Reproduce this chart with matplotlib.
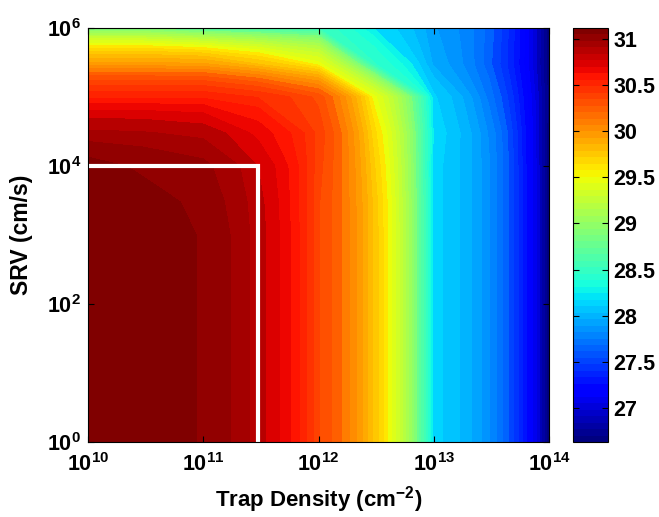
import numpy as np
import matplotlib
matplotlib.use('Agg')
import matplotlib.pyplot as plt
from matplotlib import ticker, colors, cm

# grid of simulated points
trap_density = [1e10, 3e10, 1e11, 3e11, 1e12, 3e12, 1e13, 3e13, 1e14]
srv = [1, 10, 100, 1e3, 3e3, 1e4, 3e4, 1e5, 3e5, 1e6]

# efficiency (%) for each SRV row, along trap density
eff_srv_1 = [31.11, 31.09, 31.03, 30.84, 30.34, 29.77, 28.16, 27.82, 26.64]
eff_srv_10 = [31.11, 31.09, 31.03, 30.84, 30.34, 29.77, 28.16, 27.82, 26.64]
eff_srv_100 = [31.11, 31.09, 31.03, 30.84, 30.34, 29.77, 28.16, 27.82, 26.64]
eff_srv_1e3 = [31.11, 31.09, 31.03, 30.84, 30.34, 29.77, 28.16, 27.82, 26.64]
eff_srv_3e3 = [31.10, 31.07, 31.01, 30.83, 30.34, 29.76, 28.16, 27.82, 26.64]
eff_srv_1e4 = [31.07, 31.02, 30.98, 30.80, 30.36, 29.72, 28.16, 27.82, 26.64]
eff_srv_3e4 = [30.90, 30.89, 30.85, 30.69, 30.38, 29.66, 28.18, 27.80, 26.64]
eff_srv_1e5 = [30.55, 30.55, 30.55, 30.48, 30.30, 29.50, 28.14, 27.70, 26.66]
eff_srv_3e5 = [29.97, 29.97, 29.95, 29.78, 29.50, 28.45, 27.95, 27.60, 26.64]
eff_srv_1e6 = [28.80, 28.80, 28.65, 28.58, 28.50, 28.20, 27.90, 27.62, 26.64]

# box marking the target region
box_x = [1e10, 3e11, 3e11]
box_y = [1e4, 1e4, 1]

xticks = [1e10, 1e11, 1e12, 1e13, 1e14]
xticklabels = ['$10^{10}$', '$10^{11}$', '$10^{12}$', '$10^{13}$', '$10^{14}$']
yticks = [1, 1e2, 1e4, 1e6]
yticklabels = ['$10^{0}$', '$10^{2}$', '$10^{4}$', '$10^{6}$']
cbticks = [27, 27.5, 28, 28.5, 29, 29.5, 30, 30.5, 31]
cbticklabels = ['27', '27.5', '28', '28.5', '29', '29.5', '30', '30.5', '31']

plt.rcParams['font.family'] = 'Liberation Sans'
plt.rcParams['font.weight'] = 'bold'
plt.rcParams['mathtext.fontset'] = 'custom'
plt.rcParams['mathtext.rm'] = 'Liberation Sans:bold'
plt.rcParams['mathtext.bf'] = 'Liberation Sans:bold'
plt.rcParams['mathtext.it'] = 'Liberation Sans:bold'
plt.rcParams['mathtext.default'] = 'bf'

Z = np.array([eff_srv_1, eff_srv_10, eff_srv_100, eff_srv_1e3, eff_srv_3e3,
              eff_srv_1e4, eff_srv_3e4, eff_srv_1e5, eff_srv_3e5, eff_srv_1e6])
X, Y = np.meshgrid(trap_density, srv)

fs = 15.5
fig = plt.figure(figsize=(6.59, 5.17), dpi=100)
ax = fig.add_axes([88/659, 75/517, 461/659, 414/517])

cmap = matplotlib.colormaps['jet'].resampled(64)
norm = colors.Normalize(vmin=26.63, vmax=31.12)
levels = np.linspace(26.63, 31.12, 58)
ax.contourf(X, Y, Z, levels=levels, cmap=cmap, norm=norm)
ax.plot(box_x, box_y, color='white', lw=3, solid_joinstyle='miter')

ax.set_xscale('log')
ax.set_yscale('log')
ax.set_xlim(1e10, 1e14)
ax.set_ylim(1, 1e6)
ax.xaxis.set_major_locator(ticker.FixedLocator(xticks))
ax.xaxis.set_major_formatter(ticker.FixedFormatter(xticklabels))
ax.yaxis.set_major_locator(ticker.FixedLocator(yticks))
ax.yaxis.set_major_formatter(ticker.FixedFormatter(yticklabels))
ax.xaxis.set_minor_locator(ticker.NullLocator())
ax.yaxis.set_minor_locator(ticker.NullLocator())
ax.tick_params(direction='in', top=True, right=True, length=4, width=0.8,
               labelsize=fs, pad=5)
ax.tick_params(axis='x', pad=8)
for s in ax.spines.values():
    s.set_linewidth(0.8)

ax.set_xlabel('Trap Density (cm$^{-2}$)', fontsize=16, fontweight='bold', labelpad=6)
ax.set_ylabel('SRV (cm/s)', fontsize=16.5, fontweight='bold', labelpad=10)

cax = fig.add_axes([573/659, 75/517, 35/659, 414/517])
sm = cm.ScalarMappable(norm=norm, cmap=cmap)
cb = fig.colorbar(sm, cax=cax)
cb.set_ticks(cbticks)
cb.set_ticklabels(cbticklabels)
cax.tick_params(direction='in', left=True, right=True, length=4, width=0.8,
                labelsize=fs, pad=4)
cb.outline.set_linewidth(0.8)

plt.savefig('out.png', dpi=100)
